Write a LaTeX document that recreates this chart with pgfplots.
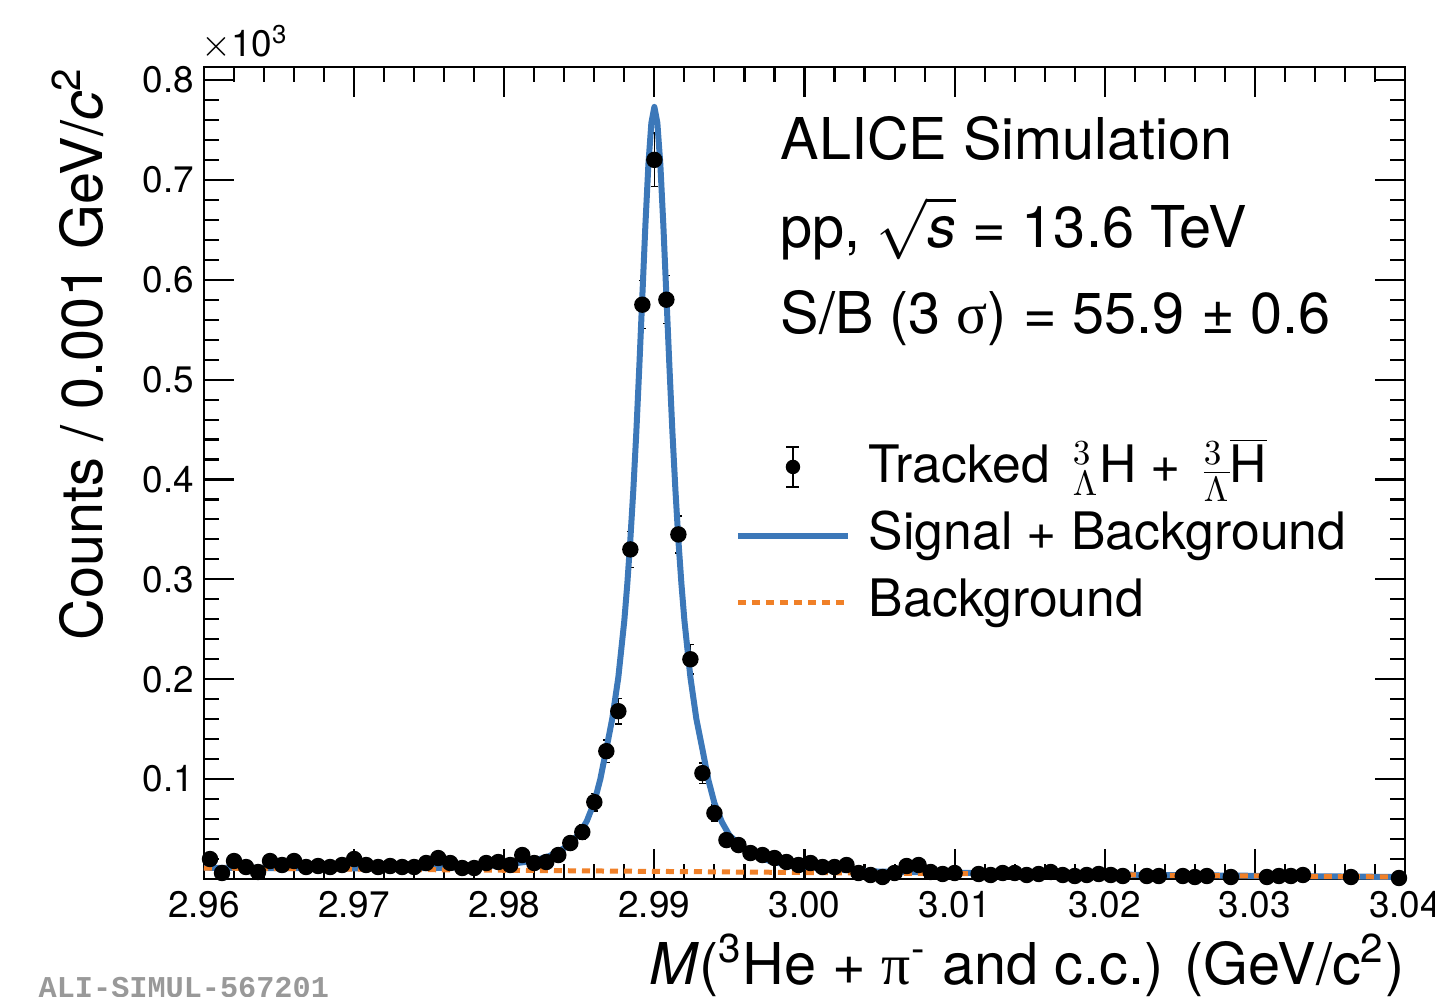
\documentclass[border=0pt]{standalone}
\usepackage{pgfplots}
\pgfplotsset{compat=1.18}
\usepackage{fontspec}
\setmainfont{TeX Gyre Heros}
\newfontfamily\aliMono{Liberation Mono}
\newfontfamily\symf{Liberation Serif}
\usetikzlibrary{calc}
\definecolor{rootblue}{RGB}{60,120,185}
\definecolor{rootorange}{RGB}{240,128,40}
\newcommand\bigf{\fontsize{16.4pt}{19.7pt}\selectfont}
\newcommand\legf{\fontsize{14.7pt}{17.6pt}\selectfont}
\newcommand\tickf{\fontsize{10.5pt}{12.6pt}\selectfont}
\pgfplotsset{
  legline/.style={legend image code/.code={\draw[##1] (0mm,0mm) -- (11mm,0mm);}},
  legdata/.style={legend image code/.code={
    \path (0mm,0mm) (11mm,0mm);
    \draw[black, line width=0.4pt] (5.5mm,-1.8mm) -- (5.5mm,2.2mm);
    \draw[black, line width=0.4pt] (4.85mm,-1.8mm) -- (6.15mm,-1.8mm);
    \draw[black, line width=0.4pt] (4.85mm,2.2mm) -- (6.15mm,2.2mm);
    \fill[black] (5.5mm,0.2mm) circle (0.65mm);}},
}

\pgfplotstableread{
x y e
2.9604 0.020 0.0045
2.9612 0.006 0.0024
2.9620 0.018 0.0042
2.9628 0.012 0.0035
2.9636 0.007 0.0026
2.9644 0.018 0.0042
2.9652 0.014 0.0037
2.9660 0.018 0.0042
2.9668 0.012 0.0035
2.9676 0.013 0.0036
2.9684 0.012 0.0035
2.9692 0.014 0.0037
2.9700 0.020 0.0045
2.9708 0.014 0.0037
2.9716 0.012 0.0035
2.9724 0.013 0.0036
2.9732 0.012 0.0035
2.9740 0.012 0.0035
2.9748 0.016 0.0040
2.9756 0.021 0.0046
2.9764 0.016 0.0040
2.9772 0.011 0.0033
2.9780 0.011 0.0033
2.9788 0.016 0.0040
2.9796 0.017 0.0041
2.9804 0.014 0.0037
2.9812 0.024 0.0049
2.9820 0.016 0.0040
2.9828 0.017 0.0041
2.9836 0.024 0.0049
2.9844 0.036 0.0060
2.9852 0.047 0.0069
2.9860 0.077 0.0088
2.9868 0.128 0.0113
2.9876 0.168 0.0130
2.9884 0.330 0.0182
2.9892 0.575 0.0240
2.9900 0.720 0.0268
2.9908 0.580 0.0241
2.9916 0.345 0.0186
2.9924 0.220 0.0148
2.9932 0.106 0.0103
2.9940 0.066 0.0081
2.9948 0.039 0.0062
2.9956 0.034 0.0058
2.9964 0.026 0.0051
2.9972 0.024 0.0049
2.9980 0.021 0.0046
2.9988 0.017 0.0041
2.9996 0.014 0.0037
3.0004 0.016 0.0040
3.0012 0.012 0.0035
3.0020 0.012 0.0035
3.0028 0.014 0.0037
3.0036 0.006 0.0024
3.0044 0.004 0.0020
3.0052 0.002 0.0014
3.0060 0.006 0.0024
3.0068 0.013 0.0036
3.0076 0.014 0.0037
3.0084 0.007 0.0026
3.0092 0.005 0.0022
3.0100 0.006 0.0024
3.0116 0.005 0.0022
3.0124 0.004 0.0020
3.0132 0.006 0.0024
3.0140 0.006 0.0024
3.0148 0.004 0.0020
3.0156 0.005 0.0022
3.0164 0.007 0.0026
3.0172 0.004 0.0020
3.0180 0.003 0.0017
3.0188 0.004 0.0020
3.0196 0.005 0.0022
3.0204 0.004 0.0020
3.0212 0.003 0.0017
3.0228 0.003 0.0017
3.0236 0.003 0.0017
3.0252 0.003 0.0017
3.0260 0.002 0.0014
3.0268 0.003 0.0017
3.0284 0.002 0.0014
3.0308 0.002 0.0014
3.0316 0.003 0.0017
3.0324 0.003 0.0017
3.0332 0.004 0.0020
3.0364 0.002 0.0014
3.0396 0.001 0.0010
}\datatable

\pgfplotstableread{
x y
2.9600 0.0113
2.9650 0.0109
2.9700 0.0107
2.9750 0.0108
2.9780 0.0121
2.9800 0.0141
2.9820 0.0184
2.9830 0.0230
2.9840 0.0310
2.9850 0.0450
2.9855 0.0580
2.9860 0.0770
2.9864 0.1000
2.9868 0.1300
2.9872 0.1610
2.9876 0.2020
2.9880 0.2590
2.9882 0.2960
2.9884 0.3400
2.9886 0.3900
2.9888 0.4480
2.9890 0.5140
2.9892 0.5840
2.9894 0.6540
2.9896 0.7150
2.9898 0.7570
2.9900 0.7730
2.9902 0.7570
2.9904 0.7150
2.9906 0.6540
2.9908 0.5840
2.9910 0.5140
2.9912 0.4480
2.9914 0.3900
2.9916 0.3390
2.9918 0.2960
2.9920 0.2590
2.9924 0.2020
2.9928 0.1600
2.9932 0.1300
2.9936 0.0990
2.9940 0.0760
2.9945 0.0570
2.9950 0.0437
2.9960 0.0299
2.9970 0.0213
2.9980 0.0166
3.0000 0.0119
3.0020 0.0094
3.0050 0.0074
3.0100 0.0062
3.0200 0.0045
3.0300 0.0032
3.0400 0.0020
}\fittable

\pgfplotstableread{
x y
2.96 0.011
3.04 0.002
}\bkgtable

\begin{document}
\begin{tikzpicture}
\begin{axis}[
  name=ax,
  scale only axis, width=120.1mm, height=81.2mm,
  xmin=2.96, xmax=3.04, ymin=0, ymax=0.813,
  xtick={2.96,2.97,2.98,2.99,3.00,3.01,3.02,3.03,3.04},
  xticklabels={2.96,2.97,2.98,2.99,3.00,3.01,3.02,3.03,3.04},
  ytick={0,0.1,0.2,0.3,0.4,0.5,0.6,0.7,0.8},
  yticklabels={{},0.1,0.2,0.3,0.4,0.5,0.6,0.7,0.8},
  minor x tick num=4, minor y tick num=4,
  tick align=inside, xtick pos=both, ytick pos=both,
  xticklabel pos=lower, yticklabel pos=left,
  major tick length=3mm, minor tick length=1.5mm,
  axis line style={line width=0.6pt},
  every tick/.style={black, line width=0.6pt},
  tick label style={font=\tickf},
  yticklabel style={inner xsep=0.9mm},
  xlabel={\textit{M}(\textsuperscript{3}He + {\symf π}\textsuperscript{-} and c.c.) (GeV/c\textsuperscript{2})},
  ylabel={Counts / 0.001 GeV/\textit{c}\textsuperscript{2}},
  label style={font=\bigf},
  xlabel style={at={(axis description cs:1,-0.1305)}, anchor=base east, inner sep=0pt},
  ylabel style={at={(axis description cs:-0.083,1)}, anchor=south east, inner sep=0pt},
  clip=false,
  legend cell align=left,
  legend style={draw=none, fill=none, at={(axis description cs:0.4421,0.537)}, anchor=north west,
    inner sep=0pt, outer sep=0pt, font=\legf, row sep=1.5mm, column sep=1.8mm,
    nodes={inner sep=0pt, text height=4.0mm, text depth=1.2mm}},
]
\addplot[only marks, mark=*, mark size=0.75mm, black, legdata,
  error bars/.cd, y dir=both, y explicit,
  error bar style={line width=0.4pt, black},
  error mark options={rotate=90, mark size=0.35mm, line width=0.4pt, black}]
  table[x=x, y=y, y error=e] {\datatable};
\addlegendentry{Tracked \,${}^{3}_{\Lambda}$H + \,${}^{3}_{\overline{\Lambda}}\overline{\mbox{H}}$}
\addplot[rootblue, line width=0.6mm, line join=round, legline]
  table[x=x, y=y] {\fittable};
\addlegendentry{Signal + Background}
\addplot[rootorange, line width=0.5mm, dash pattern=on 0.8mm off 0.6mm, legline]
  table[x=x, y=y] {\bkgtable};
\addlegendentry{Background}

\node[anchor=base west, font=\bigf, inner sep=0pt] at (axis description cs:0.4796,0.8855) {ALICE Simulation};
\node[anchor=base west, font=\bigf, inner sep=0pt] at (axis description cs:0.4796,0.7783) {pp, $\sqrt{\textit{s}}$ = 13.6 TeV};
\node[anchor=base west, font=\bigf, inner sep=0pt] at (axis description cs:0.4796,0.6724) {S/B (3 {\symf σ}) = 55.9 ± 0.6};
\node[anchor=base west, font=\tickf, inner sep=0pt] at (axis description cs:-0.003,1.0123) {$\times$10\textsuperscript{3}};
\node[anchor=base west, font={\aliMono\bfseries\fontsize{8.6pt}{10pt}\selectfont}, text=black!40, inner sep=0pt] at (axis description cs:-0.1382,-0.1455) {ALI-SIMUL-567201};
\end{axis}
\pgfresetboundingbox
\path[use as bounding box] ($(ax.south west)+(-20.4mm,-11.7mm)$) rectangle ($(ax.north east)+(3.0mm,6.7mm)$);
\end{tikzpicture}
\end{document}
